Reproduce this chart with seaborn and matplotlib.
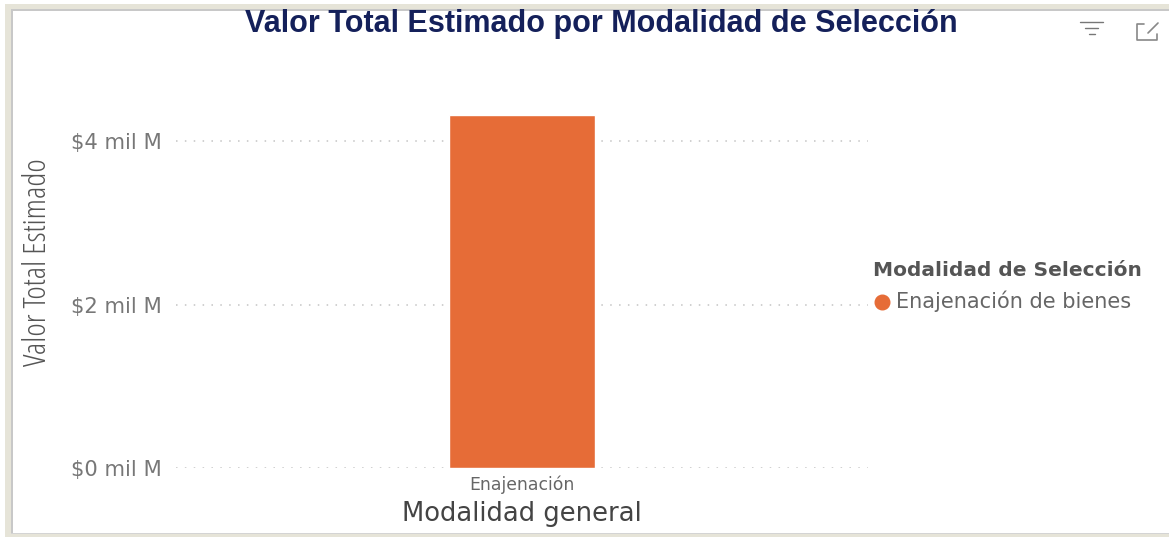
import matplotlib
matplotlib.use("Agg")
import matplotlib.pyplot as plt
import seaborn as sns
import pandas as pd
from matplotlib.patches import Rectangle

categories = ["Enajenación"]
values = [4.32]
yticks = [0, 2, 4]
ytick_labels = ["$0 mil M", "$2 mil M", "$4 mil M"]
legend_title = "Modalidad de Selección"
legend_label = "Enajenación de bienes"

W, H = 1169, 537
sns.set_theme(style="white")
plt.rcParams['font.family'] = ['DejaVu Sans']
fig = plt.figure(figsize=(W/100, H/100), dpi=100, facecolor="white")
ax = fig.add_axes([176/W, 1-468/H, (868-176)/W, (468-100)/H])

df = pd.DataFrame({"cat": categories, "val": values})
sns.barplot(data=df, x="cat", y="val", color="#E66C37", saturation=1, width=0.212, ax=ax)
ax.set_xlim(-0.5, 0.5)
ax.set_ylim(0, 4*368/(468-141.5))
ax.set_yticks(yticks)
ax.set_yticklabels(ytick_labels, color="#777777", fontsize=15.2)
ax.tick_params(axis="y", length=0, pad=10)
ax.tick_params(axis="x", length=0, pad=5.5, labelsize=12.4, labelcolor="#666666")
ax.grid(axis="y", color="#c4c4c4", linestyle=(0, (1, 4.8)), linewidth=1.1)
ax.set_axisbelow(True)
for s in ax.spines.values():
    s.set_visible(False)
ax.set_xlabel("Modalidad general", fontsize=18.6, color="#444444", labelpad=5)
ax.set_ylabel("")
fig.text(38/W, 1-262/H, "Valor Total Estimado", rotation=90, ha="center", va="center",
         fontsize=23, color="#555555", family="Open Sans", stretch="condensed")

fig.text(601/W, 1-24/H, "Valor Total Estimado por Modalidad de Selección", ha="center", va="center",
         fontsize=22, fontweight="bold", color="#14205A", family="Liberation Sans")
fig.text(873/W, 1-270/H, legend_title, ha="left", va="center", fontsize=14.5, fontweight="bold", color="#555555")
fig.text(896/W, 1-301/H, legend_label, ha="left", va="center", fontsize=15, color="#666666")
fig.add_artist(plt.Line2D([882/W], [1-302/H], marker="o", markersize=10.5, color="#E66C37", transform=fig.transFigure))

# card border: beige band on left, top and bottom, with a thin grey inner line
tf = fig.transFigure
fig.add_artist(Rectangle((5/W, 0), 6/W, 1-4/H, transform=tf, fc="#E6E4D8", ec="none"))
fig.add_artist(Rectangle((5/W, 1-9/H), 1-5/W, 5/H, transform=tf, fc="#E6E4D8", ec="none"))
fig.add_artist(Rectangle((5/W, 0), 1-5/W, 3/H, transform=tf, fc="#E6E4D8", ec="none"))
fig.add_artist(Rectangle((11/W, 1-11/H), 1-11/W, 2/H, transform=tf, fc="#C8C8C8", ec="none"))
fig.add_artist(Rectangle((11/W, 3/H), 2/W, 1-14/H, transform=tf, fc="#C8C8C8", ec="none"))
fig.add_artist(Rectangle((11/W, 3/H), 1-11/W, 1.5/H, transform=tf, fc="#D4D4D4", ec="none"))

# header icons
for y, x0, x1 in [(22, 1080, 1103), (28, 1085, 1098), (34, 1089, 1095)]:
    fig.add_artist(plt.Line2D([x0/W, x1/W], [1-y/H, 1-y/H], color="#777777", lw=1, transform=tf))
fig.add_artist(plt.Line2D([1144/W, 1137/W, 1137/W, 1157/W, 1157/W], [1-24/H, 1-24/H, 1-40/H, 1-40/H, 1-34/H],
                          color="#888888", lw=1.2, transform=tf))
fig.add_artist(plt.Line2D([1148/W, 1158/W], [1-33/H, 1-23/H], color="#888888", lw=1.2, transform=tf))
fig.savefig("out.png", dpi=100)
